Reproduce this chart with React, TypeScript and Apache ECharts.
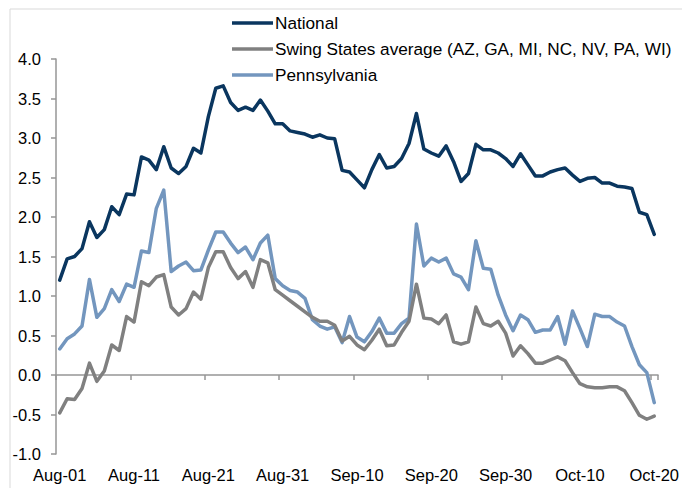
import React, { useEffect, useRef } from "react";
import * as echarts from "echarts";

const monthNames = ["Aug", "Sep", "Oct"];
const monthDays = [31, 30, 20];
const categories: string[] = [];
monthNames.forEach((m, k) => {
  for (let d = 1; d <= monthDays[k]; d++) categories.push(`${m}-${d < 10 ? "0" + d : d}`);
});

const national = [
  1.2, 1.47, 1.5, 1.6, 1.94, 1.74, 1.84, 2.13, 2.03, 2.29,
  2.28, 2.76, 2.72, 2.6, 2.89, 2.62, 2.55, 2.64, 2.87, 2.81,
  3.27, 3.63, 3.66, 3.45, 3.35, 3.39, 3.35, 3.48, 3.34, 3.18,
  3.18, 3.09, 3.07, 3.05, 3.01, 3.04, 3.0, 2.99, 2.59, 2.57,
  2.47, 2.37, 2.6, 2.79, 2.62, 2.64, 2.74, 2.93, 3.31, 2.86,
  2.81, 2.77, 2.9, 2.7, 2.45, 2.55, 2.92, 2.85, 2.85, 2.81,
  2.74, 2.64, 2.8, 2.66, 2.52, 2.52, 2.57, 2.6, 2.62, 2.53,
  2.45, 2.49, 2.5, 2.43, 2.43, 2.39, 2.38, 2.36, 2.06, 2.03,
  1.78,
];

const swingStates = [
  -0.48, -0.3, -0.31, -0.17, 0.15, -0.08, 0.05, 0.38, 0.31, 0.74,
  0.67, 1.18, 1.13, 1.24, 1.27, 0.86, 0.76, 0.84, 1.05, 0.96,
  1.36, 1.56, 1.56, 1.36, 1.22, 1.31, 1.11, 1.46, 1.42, 1.08,
  1.01, 0.94, 0.87, 0.8, 0.73, 0.68, 0.68, 0.63, 0.43, 0.49,
  0.38, 0.32, 0.44, 0.58, 0.37, 0.38, 0.54, 0.68, 1.15, 0.72,
  0.71, 0.65, 0.76, 0.42, 0.39, 0.42, 0.86, 0.65, 0.62, 0.68,
  0.53, 0.24, 0.37, 0.27, 0.15, 0.15, 0.19, 0.23, 0.18, 0.03,
  -0.11, -0.15, -0.16, -0.16, -0.15, -0.15, -0.2, -0.35, -0.51, -0.56,
  -0.52,
];

const pennsylvania = [
  0.33, 0.46, 0.52, 0.62, 1.21, 0.73, 0.84, 1.08, 0.93, 1.15,
  1.11, 1.57, 1.55, 2.11, 2.34, 1.31, 1.38, 1.43, 1.32, 1.33,
  1.58, 1.81, 1.81, 1.67, 1.55, 1.62, 1.46, 1.67, 1.77, 1.22,
  1.13, 1.07, 1.05, 0.97, 0.7, 0.62, 0.58, 0.61, 0.41, 0.74,
  0.48, 0.42, 0.55, 0.72, 0.53, 0.53, 0.65, 0.72, 1.91, 1.38,
  1.48, 1.43, 1.48, 1.28, 1.24, 1.08, 1.7, 1.35, 1.34, 1.01,
  0.76, 0.56, 0.76, 0.7, 0.54, 0.57, 0.57, 0.74, 0.39, 0.81,
  0.59, 0.36, 0.77, 0.74, 0.74, 0.67, 0.62, 0.36, 0.13, 0.03,
  -0.35,
];

const seriesNames = [
  "National",
  "Swing States average (AZ, GA, MI, NC, NV, PA, WI)",
  "Pennsylvania",
];
const seriesColors = ["#0a365f", "#808080", "#7396be"];

const FONT = "'Liberation Sans', Arial, sans-serif";

export default function App() {
  const ref = useRef<HTMLDivElement>(null);
  useEffect(() => {
    document.body.style.margin = "0";
    const chart = echarts.init(ref.current!, null, { renderer: "svg" });
    const values = [national, swingStates, pennsylvania];
    chart.setOption({
      animation: false,
      backgroundColor: "#ffffff",
      textStyle: { fontFamily: FONT },
      graphic: [
        {
          type: "rect",
          shape: { x: 10, y: 9, width: 720, height: 520 },
          style: { fill: "none", stroke: "#d9d9d9", lineWidth: 1 },
          silent: true,
        },
      ],
      legend: {
        orient: "vertical",
        left: 227,
        top: 8,
        itemWidth: 41,
        itemHeight: 3.5,
        itemGap: 6,
        icon: "rect",
        textStyle: { fontSize: 17.2, color: "#000", fontFamily: FONT, lineHeight: 20, padding: [0, 0, 0, -3] },
        data: seriesNames,
      },
      grid: { left: 56, right: 22, top: 59, bottom: 34, containLabel: false },
      xAxis: [
        {
          type: "category",
          data: categories,
          boundaryGap: true,
          position: "bottom",
          axisLine: { show: false, onZero: false },
          axisTick: { show: false },
          axisLabel: { interval: 9, fontSize: 16.5, color: "#000", fontFamily: FONT, margin: 12 },
          splitLine: { show: false },
        },
        {
          type: "category",
          data: categories,
          boundaryGap: true,
          position: "bottom",
          axisLine: { show: true, onZero: true, lineStyle: { color: "#969696", width: 1.5 } },
          axisTick: { show: true, interval: 9, length: 5, lineStyle: { color: "#969696", width: 1.5 } },
          axisLabel: { show: false },
          splitLine: { show: false },
        },
      ],
      yAxis: {
        type: "value",
        min: -1,
        max: 4,
        interval: 0.5,
        axisLine: { show: true, lineStyle: { color: "#969696", width: 1.5 } },
        axisTick: { show: true, length: 5, lineStyle: { color: "#969696", width: 1.5 } },
        axisLabel: {
          fontSize: 16.5,
          color: "#000",
          fontFamily: FONT,
          margin: 15,
          formatter: (v: number) => v.toFixed(1),
        },
        splitLine: { show: false },
      },
      series: seriesNames.map((name, k) => ({
        name,
        type: "line",
        xAxisIndex: 0,
        data: values[k],
        symbol: "none",
        color: seriesColors[k],
        lineStyle: { width: 3.5, color: seriesColors[k], cap: "round", join: "round" },
        z: 3 - k,
      })),
    });
    return () => chart.dispose();
  }, []);
  return (
    <div
      ref={ref}
      style={{ position: "fixed", left: 0, top: 0, width: 682, height: 488, background: "#fff" }}
    />
  );
}
